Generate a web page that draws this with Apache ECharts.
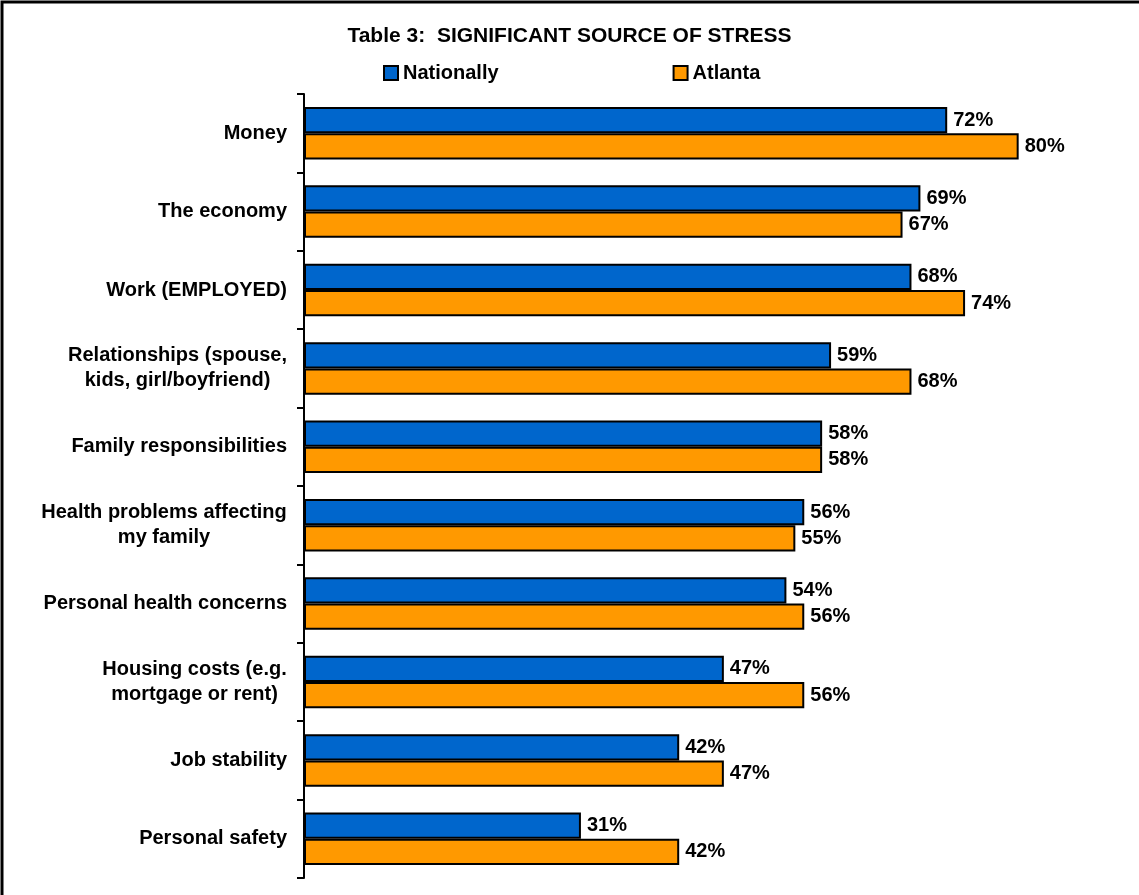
<!DOCTYPE html>
<html>
<head>
<meta charset="utf-8">
<script src="https://cdn.jsdelivr.net/npm/echarts@6/dist/echarts.min.js"></script>
<style>
  html, body { margin: 0; padding: 0; background: #fff; }
  #main { width: 1139px; height: 895px; }
</style>
</head>
<body>
<div id="main"></div>
<script>
const categories = [
  'Money',
  'The economy',
  'Work (EMPLOYED)',
  'Relationships (spouse,\nkids, girl/boyfriend)',
  'Family responsibilities',
  'Health problems affecting\nmy family',
  'Personal health concerns',
  'Housing costs (e.g.\nmortgage or rent)',
  'Job stability',
  'Personal safety'
];
const nationally = [72, 69, 68, 59, 58, 56, 54, 47, 42, 31];
const atlanta = [80, 67, 74, 68, 58, 55, 56, 56, 47, 42];

const labelSize = 20;
const ctx = document.createElement('canvas').getContext('2d');
ctx.font = 'bold ' + labelSize + 'px Arial';

// multi-line labels: lines centred on each other, block right-aligned to the axis
function lineWidth(value) {
  return Math.ceil(Math.max.apply(null, value.split('\n').map(l => ctx.measureText(l).width)));
}
const rich = {};
categories.forEach(c => {
  if (c.indexOf('\n') >= 0) {
    const w = lineWidth(c);
    rich['c' + w] = { width: w, align: 'center', fontFamily: 'Arial', fontWeight: 'bold', fontSize: labelSize, color: '#000', lineHeight: 25 };
  }
});
function catLabel(value) {
  if (value.indexOf('\n') < 0) return value;
  const w = lineWidth(value);
  return value.split('\n').map(l => '{c' + w + '|' + l + '}').join('\n');
}

const chart = echarts.init(document.getElementById('main'));
const barLabel = {
  show: true,
  position: 'right',
  distance: 6,
  formatter: '{c}%',
  color: '#000',
  fontFamily: 'Arial',
  fontWeight: 'bold',
  fontSize: 20
};
chart.setOption({
  animation: false,
  title: {
    text: 'Table 3:  SIGNIFICANT SOURCE OF STRESS',
    left: 'center',
    top: 21,
    textStyle: { fontFamily: 'Arial', fontWeight: 'bold', fontSize: 21, color: '#000' }
  },
  legend: {
    left: 378,
    top: 58,
    itemWidth: 14,
    itemHeight: 14,
    itemGap: 174,
    textStyle: { fontFamily: 'Arial', fontWeight: 'bold', fontSize: 20, color: '#000' },
    data: [
      { name: 'Nationally', icon: 'rect' },
      { name: 'Atlanta', icon: 'rect' }
    ]
  },
  graphic: [{
    type: 'rect',
    shape: { x: 2, y: 2, width: 1200, height: 1000 },
    style: { fill: 'none', stroke: '#000', lineWidth: 3 },
    silent: true
  }],
  grid: { left: 304, top: 94, width: 804, height: 784 },
  xAxis: {
    type: 'value',
    min: 0,
    max: 90,
    show: false
  },
  yAxis: {
    type: 'category',
    inverse: true,
    data: categories,
    axisLine: { lineStyle: { color: '#000', width: 2 } },
    axisTick: { show: true, length: 7, lineStyle: { color: '#000', width: 2 } },
    axisLabel: {
      margin: 17,
      color: '#000',
      fontFamily: 'Arial',
      fontWeight: 'bold',
      fontSize: labelSize,
      lineHeight: 25,
      formatter: catLabel,
      rich: rich
    }
  },
  series: [
    {
      name: 'Nationally',
      type: 'bar',
      data: nationally,
      barCategoryGap: '33%',
      barGap: '0%',
      itemStyle: { color: '#0066CC', borderColor: '#000', borderWidth: 2 },
      label: barLabel
    },
    {
      name: 'Atlanta',
      type: 'bar',
      data: atlanta,
      itemStyle: { color: '#FF9900', borderColor: '#000', borderWidth: 2 },
      label: barLabel
    }
  ]
});
</script>
</body>
</html>
